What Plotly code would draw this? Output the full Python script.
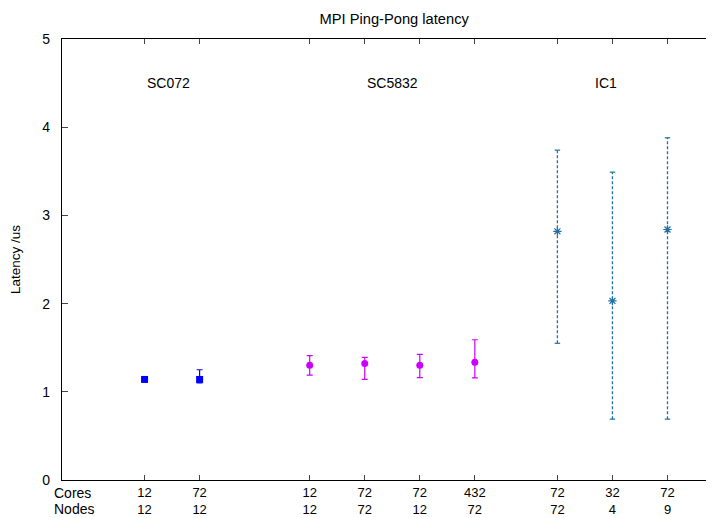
import plotly.graph_objects as go

# ---- data ----
cores = ["12", "72", "12", "72", "72", "432", "72", "32", "72"]
nodes = ["12", "12", "12", "72", "12", "72", "72", "4", "9"]

sc072_x = [1, 2]
sc072_y = [1.14, 1.14]
sc072_hi = [1.16, 1.25]
sc072_lo = [1.12, 1.10]

sc5832_x = [4, 5, 6, 7]
sc5832_y = [1.30, 1.32, 1.30, 1.335]
sc5832_hi = [1.41, 1.39, 1.425, 1.59]
sc5832_lo = [1.19, 1.14, 1.16, 1.157]

ic1_x = [8.5, 9.5, 10.5]
ic1_y = [2.82, 2.03, 2.84]
ic1_hi = [3.74, 3.49, 3.88]
ic1_lo = [1.55, 0.69, 0.69]

group_labels = ["SC072", "SC5832", "IC1"]
group_label_x = [1, 5, 9.15]
group_label_y = 4.5

row_labels = ["Cores", "Nodes"]

tick_x = sc072_x + sc5832_x + ic1_x
tick_text = [f"{c}<br>{n}" for c, n in zip(cores, nodes)]

FONT = "Liberation Sans, Arial, sans-serif"
BLUE = "#0000ff"
MAG = "#cc00ff"
IC = "#2070a8"

fig = go.Figure()

fig.add_trace(go.Scatter(
    x=sc072_x, y=sc072_y, mode="markers",
    marker=dict(symbol="square", size=7, color=BLUE),
    error_y=dict(type="data", symmetric=False,
                 array=[h - y for h, y in zip(sc072_hi, sc072_y)],
                 arrayminus=[y - l for l, y in zip(sc072_lo, sc072_y)],
                 color=BLUE, thickness=1.2, width=3),
    showlegend=False))

fig.add_trace(go.Scatter(
    x=sc5832_x, y=sc5832_y, mode="markers",
    marker=dict(symbol="circle", size=7, color=MAG),
    error_y=dict(type="data", symmetric=False,
                 array=[h - y for h, y in zip(sc5832_hi, sc5832_y)],
                 arrayminus=[y - l for l, y in zip(sc5832_lo, sc5832_y)],
                 color=MAG, thickness=1.2, width=3),
    showlegend=False))

# IC1 dashed error bars
bx, by = [], []
for x, lo, hi in zip(ic1_x, ic1_lo, ic1_hi):
    bx += [x, x, None]
    by += [lo, hi, None]
fig.add_trace(go.Scatter(x=bx, y=by, mode="lines",
                         line=dict(color=IC, width=1.3, dash="3px,2px"),
                         showlegend=False, hoverinfo="skip"))
cx, cy = [], []
cap = 0.05
for x, lo, hi in zip(ic1_x, ic1_lo, ic1_hi):
    for v in (lo, hi):
        cx += [x - cap, x + cap, None]
        cy += [v, v, None]
fig.add_trace(go.Scatter(x=cx, y=cy, mode="lines",
                         line=dict(color=IC, width=1.2),
                         showlegend=False, hoverinfo="skip"))
fig.add_trace(go.Scatter(
    x=ic1_x, y=ic1_y, mode="markers",
    marker=dict(symbol="asterisk-open", size=7, color=IC,
                line=dict(color=IC, width=1.2)),
    showlegend=False))

for t, x in zip(group_labels, group_label_x):
    fig.add_annotation(x=x, y=group_label_y, text=t, showarrow=False,
                       xanchor="left", yanchor="middle",
                       font=dict(family=FONT, size=14, color="black"))

for i, t in enumerate(row_labels):
    fig.add_annotation(x=0, xref="paper", y=0, yref="paper", text=t,
                       showarrow=False, xanchor="left", yanchor="middle",
                       xshift=-10, yshift=-13 - 16 * i,
                       font=dict(family=FONT, size=14, color="black"))

# page has an 8px body margin; figure is sized to fit the 714x518 window
fig.update_layout(
    width=706, height=510,
    margin=dict(l=54, r=0, t=31, b=38, autoexpand=False),
    paper_bgcolor="white", plot_bgcolor="white",
    font=dict(family=FONT, size=13, color="black"),
    title=dict(text="MPI Ping-Pong latency", x=0.547, xanchor="center",
               y=0.978, yanchor="middle", font=dict(family=FONT, size=14.7)),
)
fig.update_xaxes(range=[-0.5, 11.345], tickmode="array", tickvals=tick_x,
                 ticktext=tick_text, ticks="inside", ticklen=5,
                 showline=True, linecolor="black", linewidth=1.2,
                 mirror="ticks", showgrid=False, zeroline=False,
                 automargin=False,
                 tickfont=dict(family=FONT, size=13))
fig.update_yaxes(range=[0, 5], tickvals=[0, 1, 2, 3, 4, 5], ticks="inside",
                 ticklen=6, showline=True, linecolor="black", linewidth=1.2,
                 showgrid=False, zeroline=False, automargin=False,
                 ticklabelstandoff=8,
                 title=dict(text="Latency /us", standoff=25,
                            font=dict(family=FONT, size=13.5)),
                 tickfont=dict(family=FONT, size=14))

fig.write_html("out.html")
